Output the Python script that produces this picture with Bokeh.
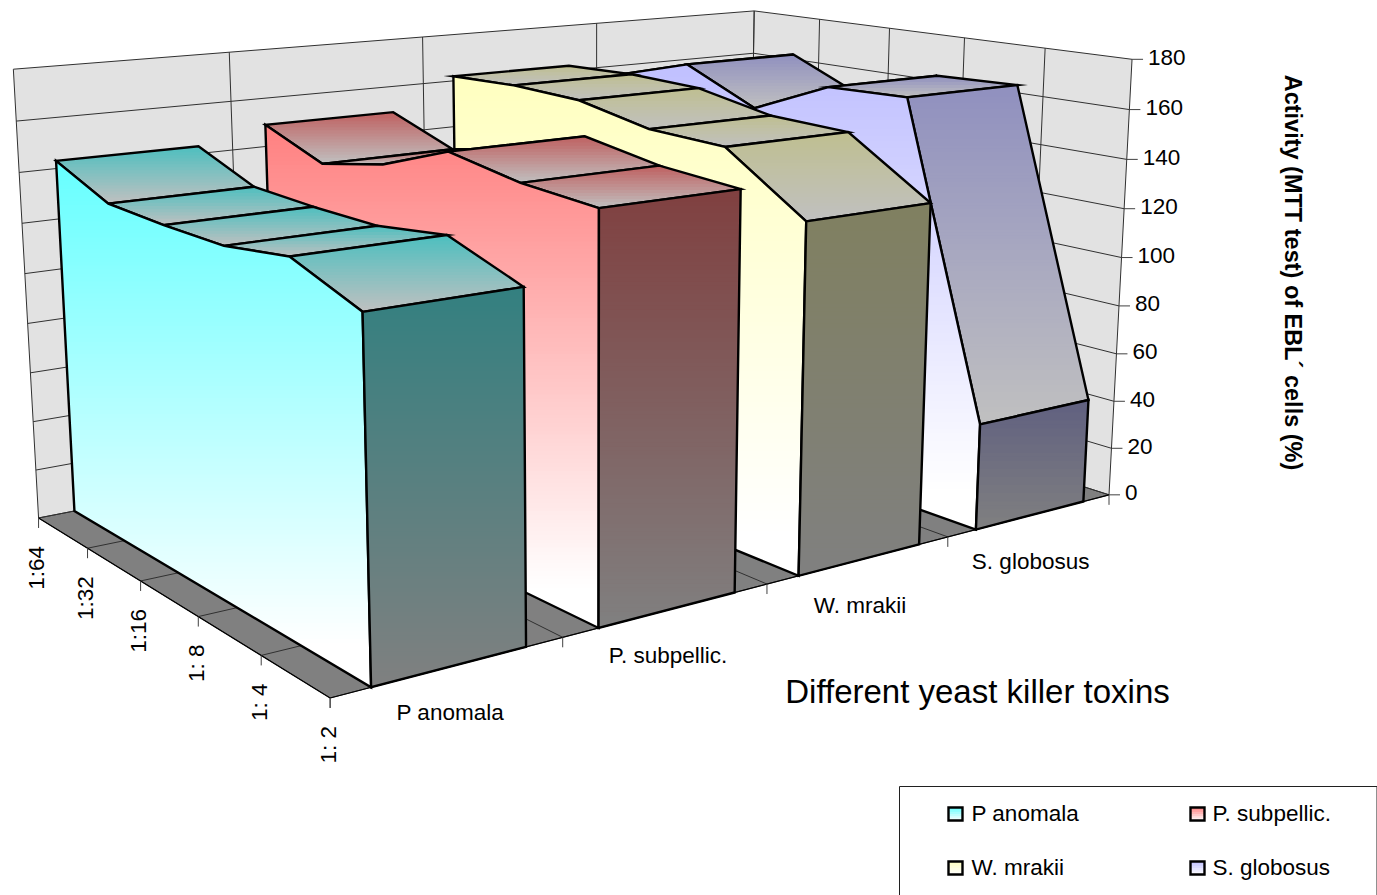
import math
import numpy as np
from bokeh.plotting import figure
from bokeh.models import Range1d
from bokeh.core.properties import value
from bokeh.embed import file_html
from bokeh.resources import INLINE

# ---- data
series_names = ["P anomala", "P. subpellic.", "W. mrakii", "S. globosus"]
dilutions = ["1: 2", "1: 4", "1: 8", "1:16", "1:32", "1:64"]
p_anomala = [126, 136, 132, 132, 133, 143]
p_subpellic = [149, 151, 156, 145, 139, 149]
w_mrakii = [134, 155, 156, 162, 163, 162]
s_globosus = [43, 166, 165, 151, 165, 156]
z_ticks = [0, 20, 40, 60, 80, 100, 120, 140, 160, 180]
series_values = [p_anomala, p_subpellic, w_mrakii, s_globosus]
base_colors = [(102, 255, 255), (255, 128, 128), (255, 255, 192), (192, 192, 255)]

# ---- perspective camera of the 3-D box (series, dilution, value/36) -> page pixels
CAM = np.array([[271.51368, -56.497809, -6.383953, 329.626616],
                [-16.532339, -11.338196, -111.885173, 697.460035],
                [0.069278, 0.047652, -0.010842, 1.0]])
NS, ND, ZMAX = len(series_names), len(dilutions) - 1, z_ticks[-1]
NEAR, FAR = 1 / 6, 5 / 6
FONT = value("Liberation Sans")


def pr(x, y, z):
    r = CAM @ np.array([x, y, z / 36.0, 1.0])
    return float(r[0] / r[2]), float(r[1] / r[2])


p = figure(width=1377, height=895, x_range=Range1d(0, 1377), y_range=Range1d(895, 0),
           x_axis_type=None, y_axis_type=None, toolbar_location=None,
           output_backend="svg", min_border=0, outline_line_color=None,
           background_fill_color="white", border_fill_color="white")
p.grid.visible = False
p.styles = {"position": "absolute", "left": "0px", "top": "0px"}


def mix(a, b, t):
    t = min(1.0, t)
    return "#%02x%02x%02x" % tuple(int(round(a[i] + (b[i] - a[i]) * t)) for i in range(3))


def clip_below(poly, y0):
    out = []
    n = len(poly)
    for i in range(n):
        a, b = poly[i], poly[(i + 1) % n]
        ina, inb = a[1] >= y0, b[1] >= y0
        if ina:
            out.append(a)
        if ina != inb:
            t = (y0 - a[1]) / (b[1] - a[1])
            out.append((a[0] + (b[0] - a[0]) * t, y0))
    return out


def face(poly, top, bottom, width=2.4, px_per_step=4, reach=1.0):
    ys = [q[1] for q in poly]
    y0, y1 = min(ys), max(ys)
    steps = max(2, int((y1 - y0) / px_per_step))
    xs_l, ys_l, cols = [], [], []
    for k in range(steps):
        c = clip_below(poly, y0 + (y1 - y0) * k / steps)
        if len(c) >= 3:
            xs_l.append([q[0] for q in c])
            ys_l.append([q[1] for q in c])
            cols.append(mix(top, bottom, (k + 0.5) / steps / reach))
    p.patches(xs_l, ys_l, fill_color=cols, line_color=None)
    if width:
        p.patches([[q[0] for q in poly]], [[q[1] for q in poly]], fill_color=None,
                  line_color="black", line_width=width, line_join="miter")


def seg(a, b, color="#303030", w=1.0):
    p.line([a[0], b[0]], [a[1], b[1]], line_color=color, line_width=w)


def flat(poly, color):
    p.patch([q[0] for q in poly], [q[1] for q in poly], fill_color=color, line_color=None)


# walls and floor
flat([pr(0, ND, 0), pr(NS, ND, 0), pr(NS, ND, ZMAX), pr(0, ND, ZMAX)], "#e2e2e2")
flat([pr(NS, 0, 0), pr(NS, ND, 0), pr(NS, ND, ZMAX), pr(NS, 0, ZMAX)], "#e2e2e2")
flat([pr(0, 0, 0), pr(NS, 0, 0), pr(NS, ND, 0), pr(0, ND, 0)], "#808080")
for z in z_ticks:
    seg(pr(0, ND, z), pr(NS, ND, z))
    seg(pr(NS, ND, z), pr(NS, 0, z))
for i in range(NS + 1):
    seg(pr(i, ND, 0), pr(i, ND, ZMAX))
    seg(pr(i, 0, 0), pr(i, ND, 0))
for j in range(ND + 1):
    seg(pr(NS, j, 0), pr(NS, j, ZMAX))
    seg(pr(0, j, 0), pr(NS, j, 0))
seg(pr(0, 0, 0), pr(0, ND, 0), "black", 1.2)
seg(pr(0, 0, 0), pr(NS, 0, 0), "black", 1.2)

# axis ticks
for i in range(NS + 1):
    a = pr(i, 0, 0)
    seg(a, (a[0], a[1] + 10), "#404040")
for j in range(ND + 1):
    a = pr(0, j, 0)
    seg(a, (a[0], a[1] + 10), "#404040")
for z in z_ticks:
    a = pr(NS, 0, z)
    seg(a, (a[0] + 11, a[1]), "#404040")

# series, back to front
WHITE, GREY_T, GREY_F = (255, 255, 255), (192, 192, 192), (128, 128, 128)
for s in range(NS - 1, -1, -1):
    vals = series_values[s]
    base = base_colors[s]
    xn, xf = s + NEAR, s + FAR
    top_col = tuple(c * 0.75 for c in base)
    front_col = tuple(c * 0.5 for c in base)
    for j in range(ND - 1, -1, -1):
        q = [pr(xn, j, vals[j]), pr(xf, j, vals[j]), pr(xf, j + 1, vals[j + 1]), pr(xn, j + 1, vals[j + 1])]
        face(q, top_col, GREY_T, px_per_step=3)
    side = [pr(xn, j, vals[j]) for j in range(ND + 1)] + [pr(xn, ND, 0), pr(xn, 0, 0)]
    face(side, base, WHITE, reach=0.92)
    front = [pr(xn, 0, vals[0]), pr(xf, 0, vals[0]), pr(xf, 0, 0), pr(xn, 0, 0)]
    face(front, front_col, GREY_F)


def label(x, y, t, size=22.5, align="center", angle=0.0, style="normal"):
    p.text([x], [y], text=[t], text_font=FONT, text_font_size=f"{size}px", text_color="black",
           text_align=align, text_baseline="middle", angle=angle, text_font_style=style)


for z in z_ticks:
    a = pr(NS, 0, z)
    label(a[0] + 16, a[1] - 2, str(z), align="left")
for j, t in enumerate(dilutions):
    a = pr(0, j, 0)
    label(a[0] - 2, a[1] + 28, t, align="right", angle=math.pi / 2)
for i, t in enumerate(series_names):
    a = pr(i + 0.5, 0, 0)
    label(a[0], a[1] + 46, t)
label(977, 691, "Different yeast killer toxins", size=33)
label(1292, 272, "Activity (MTT test) of EBL\u00b4 cells (%)", size=23.5, angle=-math.pi / 2, style="bold")

# legend
p.patches([[899, 1376.5, 1376.5, 899]], [[786, 786, 896, 896]], fill_color="white",
          line_color="#202020", line_width=1)
key_x = [948, 1190, 948, 1190]
key_y = [807, 807, 861, 861]
for n in range(NS):
    kx, ky = key_x[n], key_y[n]
    face([(kx, ky), (kx + 14, ky), (kx + 14, ky + 13), (kx, ky + 13)], base_colors[n], WHITE, px_per_step=2)
    label(kx + (23 if n % 2 == 0 else 22), ky + 6, series_names[n], align="left")

open("out.html", "w").write(file_html(p, INLINE))
